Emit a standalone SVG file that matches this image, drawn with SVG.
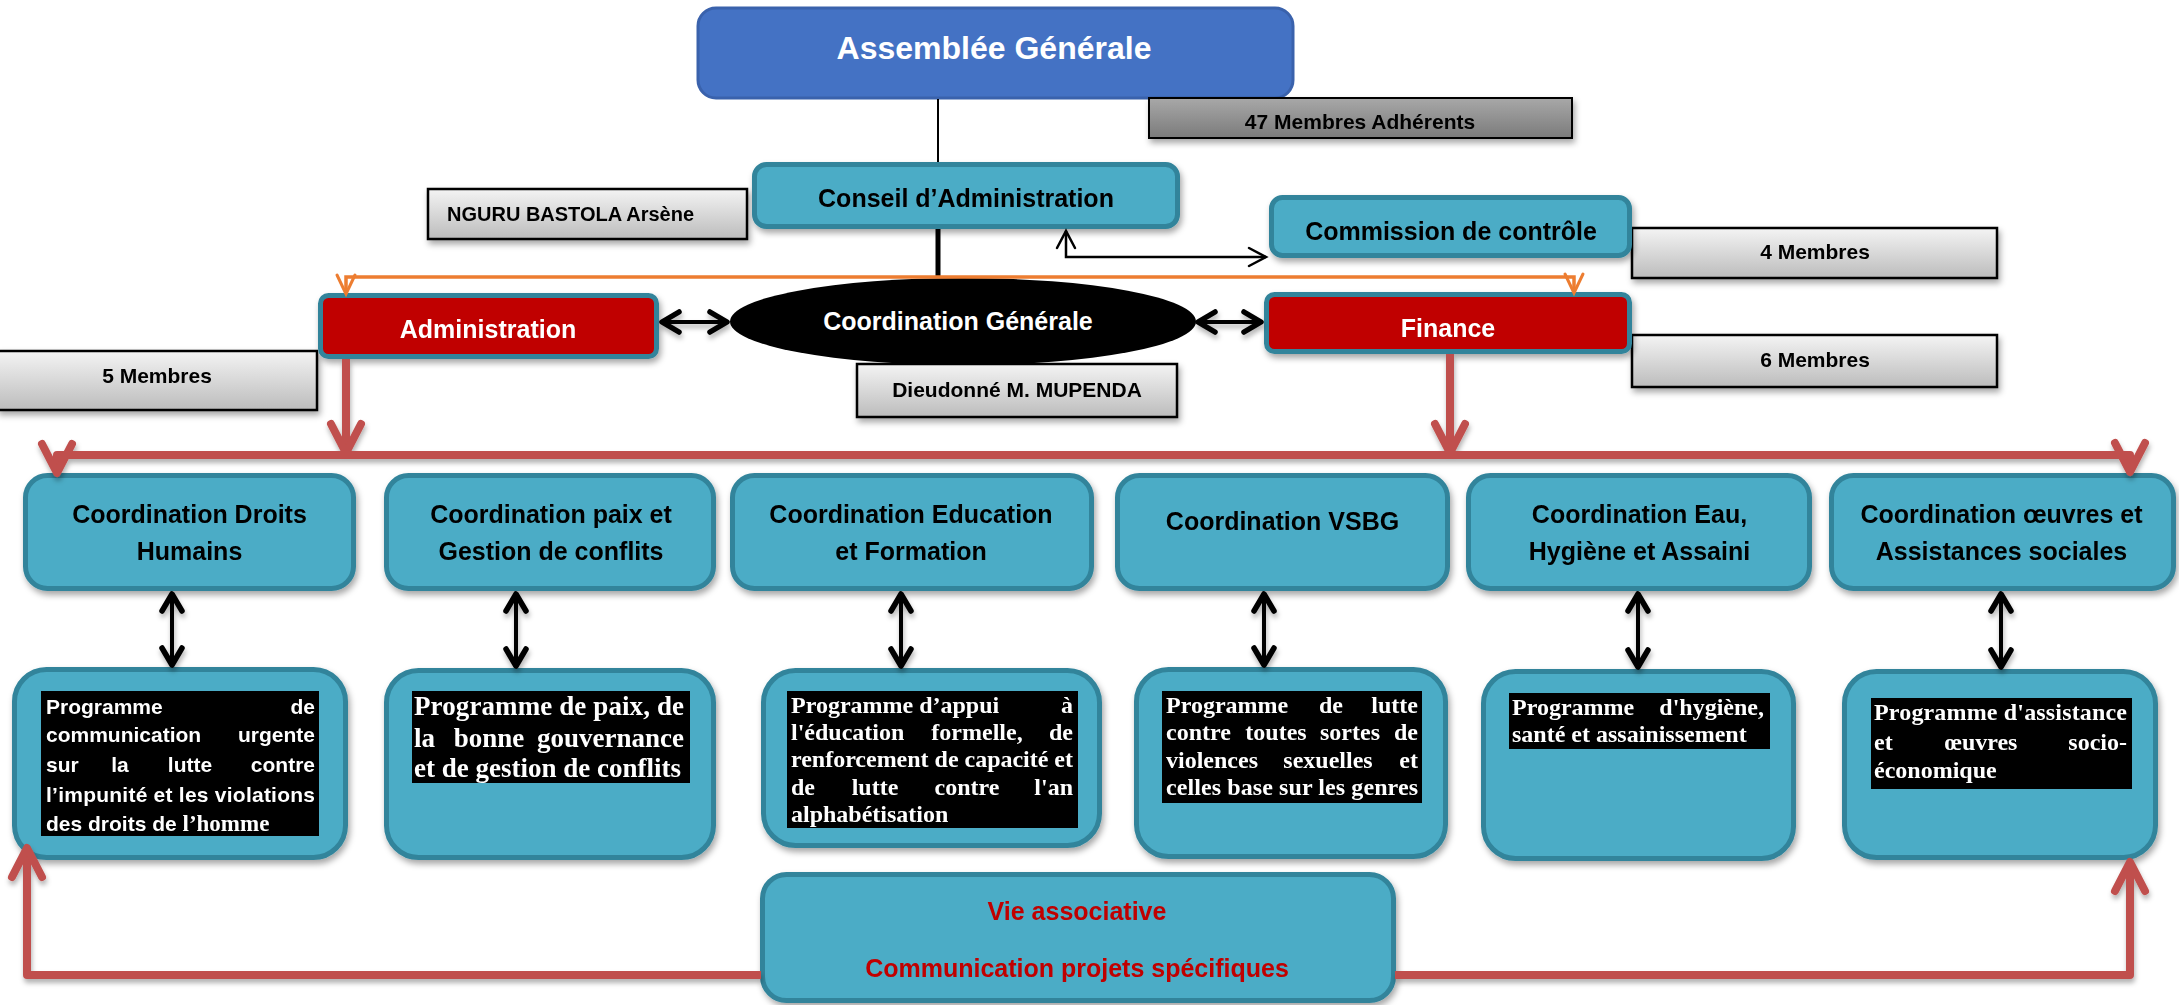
<svg xmlns="http://www.w3.org/2000/svg" width="2179" height="1005" viewBox="0 0 2179 1005">
<defs>
<style>
.teal{fill:#4BACC6;stroke:#31849B;stroke-width:5}
.redb{fill:#C00000;stroke:#31849B;stroke-width:5}
.gray{fill:url(#gLight);stroke:#000;stroke-width:2.5}
.grayd{fill:url(#gDark);stroke:#000;stroke-width:2}
.blk{fill:#000}
.t{font-family:"Liberation Sans",Arial,sans-serif;font-weight:bold}
.sz25{font-size:25px}
.sz21{font-size:21px}
.c{text-anchor:middle}
.e{text-anchor:end}
.w{fill:#fff}
.k{fill:#000}
.s{font-family:"Liberation Serif","Times New Roman",serif;font-weight:bold;fill:#fff;font-size:24px}
.s27{font-size:27px}
.ps{font-family:"Liberation Sans",Arial,sans-serif;font-weight:bold;fill:#fff;font-size:21px}
.lnB{fill:none;stroke:#000;stroke-width:4}
.lnT{fill:none;stroke:#000;stroke-width:2.5}
.lnO{fill:none;stroke:#ED7D31;stroke-width:3.5}
.lnR{fill:none;stroke:#C0504D;stroke-width:8;stroke-linejoin:round}
</style>
<linearGradient id="gLight" x1="0" y1="0" x2="0" y2="1">
<stop offset="0" stop-color="#f4f4f4"/><stop offset="1" stop-color="#bcbcbc"/>
</linearGradient>
<linearGradient id="gDark" x1="0" y1="0" x2="0" y2="1">
<stop offset="0" stop-color="#a8a8a8"/><stop offset="1" stop-color="#7b7b7b"/>
</linearGradient>
<filter id="sh" x="-10%" y="-10%" width="125%" height="140%">
<feDropShadow dx="2" dy="4" stdDeviation="3" flood-color="#000" flood-opacity="0.35"/>
</filter>
<filter id="shl" x="-5%" y="-50%" width="110%" height="300%">
<feDropShadow dx="1" dy="4" stdDeviation="2.5" flood-color="#000" flood-opacity="0.3"/>
</filter>
<marker id="aBlk" viewBox="0 0 24 26" refX="20" refY="13" markerWidth="24" markerHeight="26" markerUnits="userSpaceOnUse" orient="auto-start-reverse" overflow="visible">
<path d="M3,3 L20,13 L3,23" fill="none" stroke="#000" stroke-width="5.5" stroke-linecap="round" stroke-linejoin="round"/>
</marker>
<marker id="aThin" viewBox="0 0 20 20" refX="18" refY="10" markerWidth="20" markerHeight="20" markerUnits="userSpaceOnUse" orient="auto-start-reverse" overflow="visible">
<path d="M1,1 L18,10 L1,19" fill="none" stroke="#000" stroke-width="2.5" stroke-linecap="round"/>
</marker>
<marker id="aOr" viewBox="0 0 22 20" refX="20" refY="10" markerWidth="22" markerHeight="20" markerUnits="userSpaceOnUse" orient="auto" overflow="visible">
<path d="M1,1 L20,10 L1,19" fill="none" stroke="#ED7D31" stroke-width="3" stroke-linecap="round"/>
</marker>
<marker id="aRed" viewBox="0 0 34 34" refX="30" refY="17" markerWidth="34" markerHeight="34" markerUnits="userSpaceOnUse" orient="auto" overflow="visible">
<path d="M2,2 L31,17 L2,32" fill="none" stroke="#C0504D" stroke-width="8" stroke-linecap="round" stroke-linejoin="round"/>
</marker>
</defs>

<rect width="2179" height="1005" fill="#fff"/>

<g id="assemblee">
<rect x="698" y="8" width="595" height="90" rx="18" fill="#4472C4" stroke="#3A62AC" stroke-width="3"/>
<text class="t w c" x="994" y="59" font-size="32">Assemblée Générale</text>
</g>

<g id="membres47" filter="url(#sh)">
<rect class="grayd" x="1149" y="98" width="423" height="40"/>
<text class="t k c sz21" x="1360" y="129">47 Membres Adhérents</text>
</g>

<g id="nguru" filter="url(#sh)">
<rect class="gray" x="428" y="189" width="319" height="50"/>
<text class="t k" x="447" y="221" font-size="20">NGURU BASTOLA Arsène</text>
</g>

<g id="conseil" filter="url(#sh)">
<rect class="teal" x="754.5" y="164.5" width="423" height="62" rx="12"/>
<text class="t k c sz25" x="966" y="207">Conseil d’Administration</text>
</g>

<g id="membres4" filter="url(#sh)">
<rect class="gray" x="1632" y="228" width="365" height="50"/>
<text class="t k c sz21" x="1815" y="259">4 Membres</text>
</g>

<g id="commission" filter="url(#sh)">
<rect class="teal" x="1271.5" y="197.5" width="358" height="58" rx="11"/>
<text class="t k c sz25" x="1451" y="240">Commission de contrôle</text>
</g>

<g id="membres5" filter="url(#sh)">
<rect class="gray" x="-2" y="351" width="319" height="59"/>
<text class="t k c sz21" x="157" y="383">5 Membres</text>
</g>

<g id="administration" filter="url(#sh)">
<rect class="redb" x="320.5" y="295.5" width="336" height="61" rx="8"/>
<text class="t w c sz25" x="488" y="338">Administration</text>
</g>

<g id="dieudonne" filter="url(#sh)">
<rect class="gray" x="857" y="364" width="320" height="53"/>
<text class="t k c sz21" x="1017" y="397">Dieudonné M. MUPENDA</text>
</g>

<g id="coordination-generale">
<ellipse cx="963" cy="321.5" rx="233" ry="43.5" fill="#000"/>
<text class="t w c sz25" x="958" y="330">Coordination Générale</text>
</g>

<g id="membres6" filter="url(#sh)">
<rect class="gray" x="1632" y="335" width="365" height="52"/>
<text class="t k c sz21" x="1815" y="367">6 Membres</text>
</g>

<g id="finance" filter="url(#sh)">
<rect class="redb" x="1266.5" y="294.5" width="363" height="57" rx="8"/>
<text class="t w c sz25" x="1448" y="337">Finance</text>
</g>

<g id="coord-droits" filter="url(#sh)">
<rect class="teal" x="25.5" y="475.5" width="328" height="113" rx="22"/>
<text class="t k c sz25" x="189.5" y="523">Coordination Droits</text>
<text class="t k c sz25" x="189.5" y="560">Humains</text>
</g>
<g id="coord-paix" filter="url(#sh)">
<rect class="teal" x="386.5" y="475.5" width="327" height="113" rx="22"/>
<text class="t k c sz25" x="551" y="523">Coordination paix et</text>
<text class="t k c sz25" x="551" y="560">Gestion de conflits</text>
</g>
<g id="coord-education" filter="url(#sh)">
<rect class="teal" x="732.5" y="475.5" width="359" height="113" rx="22"/>
<text class="t k c sz25" x="911" y="523">Coordination Education</text>
<text class="t k c sz25" x="911" y="560">et Formation</text>
</g>
<g id="coord-vsbg" filter="url(#sh)">
<rect class="teal" x="1117.5" y="475.5" width="330" height="113" rx="22"/>
<text class="t k c sz25" x="1282.5" y="530">Coordination VSBG</text>
</g>
<g id="coord-eau" filter="url(#sh)">
<rect class="teal" x="1468.5" y="475.5" width="341" height="113" rx="22"/>
<text class="t k c sz25" x="1639.5" y="523">Coordination Eau,</text>
<text class="t k c sz25" x="1639.5" y="560">Hygiène et Assaini</text>
</g>
<g id="coord-oeuvres" filter="url(#sh)">
<rect class="teal" x="1831.5" y="475.5" width="342" height="113" rx="22"/>
<text class="t k c sz25" x="2001.5" y="523">Coordination œuvres et</text>
<text class="t k c sz25" x="2001.5" y="560">Assistances sociales</text>
</g>

<g id="prog-droits" filter="url(#sh)">
<rect class="teal" x="14.5" y="669.5" width="331" height="188" rx="32"/>
<rect class="blk" x="41" y="691" width="278" height="145"/>
<text class="ps" x="46" y="714" font-size="18">Programme</text>
<text class="ps e" x="315" y="714" font-size="18">de</text>
<text class="ps" x="46" y="742">communication</text>
<text class="ps e" x="315" y="742">urgente</text>
<text class="ps" x="46" y="772">sur</text>
<text class="ps c" x="120" y="772">la</text>
<text class="ps c" x="190" y="772">lutte</text>
<text class="ps e" x="315" y="772">contre</text>
<text class="ps" x="46" y="802" textLength="269" lengthAdjust="spacing">l’impunité et les violations</text>
<text class="ps" x="46" y="831">des droits de <tspan font-family="'Liberation Serif',serif" font-size="23">l’homme</tspan></text>
</g>

<g id="prog-paix" filter="url(#sh)">
<rect class="teal" x="386.5" y="670.5" width="327" height="187" rx="32"/>
<rect class="blk" x="412" y="691" width="278" height="92"/>
<text class="s s27" x="414" y="715" textLength="270" lengthAdjust="spacing">Programme de paix, de</text>
<text class="s s27" x="414" y="747">la</text>
<text class="s s27 c" x="489" y="747">bonne</text>
<text class="s s27 e" x="684" y="747">gouvernance</text>
<text class="s s27" x="414" y="777">et de gestion de conflits</text>
</g>

<g id="prog-education" filter="url(#sh)">
<rect class="teal" x="763.5" y="670.5" width="336" height="175" rx="32"/>
<rect class="blk" x="787" y="691" width="291" height="137"/>
<text class="s" x="791" y="713">Programme d’appui</text>
<text class="s e" x="1073" y="713">à</text>
<text class="s" x="791" y="740">l'éducation</text>
<text class="s c" x="977" y="740">formelle,</text>
<text class="s e" x="1073" y="740">de</text>
<text class="s" x="791" y="767" textLength="282" lengthAdjust="spacing">renforcement de capacité et</text>
<text class="s" x="791" y="795">de</text>
<text class="s c" x="875" y="795">lutte</text>
<text class="s c" x="967" y="795">contre</text>
<text class="s e" x="1073" y="795">l'an</text>
<text class="s" x="791" y="822">alphabétisation</text>
</g>

<g id="prog-vsbg" filter="url(#sh)">
<rect class="teal" x="1136.5" y="669.5" width="309" height="187" rx="32"/>
<rect class="blk" x="1162" y="691" width="260" height="112"/>
<text class="s" x="1166" y="713">Programme</text>
<text class="s c" x="1331" y="713">de</text>
<text class="s e" x="1418" y="713">lutte</text>
<text class="s" x="1166" y="740">contre</text>
<text class="s c" x="1276" y="740">toutes</text>
<text class="s c" x="1350" y="740">sortes</text>
<text class="s e" x="1418" y="740">de</text>
<text class="s" x="1166" y="768">violences</text>
<text class="s c" x="1328" y="768">sexuelles</text>
<text class="s e" x="1418" y="768">et</text>
<text class="s" x="1166" y="795" textLength="252" lengthAdjust="spacing">celles base sur les genres</text>
</g>

<g id="prog-hygiene" filter="url(#sh)">
<rect class="teal" x="1483.5" y="671.5" width="310" height="187" rx="32"/>
<rect class="blk" x="1509" y="693" width="261" height="56"/>
<text class="s" x="1512" y="715">Programme</text>
<text class="s e" x="1764" y="715">d'hygiène,</text>
<text class="s" x="1512" y="742">santé et assainissement</text>
</g>

<g id="prog-assistance" filter="url(#sh)">
<rect class="teal" x="1844.5" y="671.5" width="311" height="186" rx="32"/>
<rect class="blk" x="1871" y="698" width="261" height="91"/>
<text class="s" x="1874" y="720" textLength="253" lengthAdjust="spacing">Programme d'assistance</text>
<text class="s" x="1874" y="750">et</text>
<text class="s c" x="1981" y="750">œuvres</text>
<text class="s e" x="2127" y="750">socio-</text>
<text class="s" x="1874" y="778">économique</text>
</g>

<g id="vie-associative" filter="url(#sh)">
<rect class="teal" x="762.5" y="874.5" width="631" height="126" rx="24"/>
<text class="t c sz25" x="1077" y="920" fill="#C00000">Vie associative</text>
<text class="t c sz25" x="1077" y="977" fill="#C00000">Communication projets spécifiques</text>
</g>

<g id="connectors">
<path d="M938,99 V162" fill="none" stroke="#000" stroke-width="2"/>
<path d="M938,229 V278" fill="none" stroke="#000" stroke-width="5"/>
<path class="lnT" d="M1066,231 V257 H1266" marker-start="url(#aThin)" marker-end="url(#aThin)"/>
<path class="lnO" d="M963,277 H346 V294" marker-end="url(#aOr)"/>
<path class="lnO" d="M963,277 H1574 V293" marker-end="url(#aOr)"/>
<g filter="url(#shl)">
<path class="lnB" d="M662,322 H727" marker-start="url(#aBlk)" marker-end="url(#aBlk)"/>
<path class="lnB" d="M1198,322 H1261" marker-start="url(#aBlk)" marker-end="url(#aBlk)"/>
<path class="lnR" d="M346,359 V452" marker-end="url(#aRed)"/>
<path class="lnR" d="M1450,354 V452" marker-end="url(#aRed)"/>
<path class="lnR" d="M1000,455 H57 V472" marker-end="url(#aRed)"/>
<path class="lnR" d="M1000,455 H2130 V471" marker-end="url(#aRed)"/>
<path class="lnR" d="M761,975 H27 V849" marker-end="url(#aRed)"/>
<path class="lnR" d="M1395,975 H2130 V863" marker-end="url(#aRed)"/>
<path class="lnB" d="M172,594 V665" marker-start="url(#aBlk)" marker-end="url(#aBlk)"/>
<path class="lnB" d="M516,594 V666" marker-start="url(#aBlk)" marker-end="url(#aBlk)"/>
<path class="lnB" d="M901,594 V666" marker-start="url(#aBlk)" marker-end="url(#aBlk)"/>
<path class="lnB" d="M1264,594 V665" marker-start="url(#aBlk)" marker-end="url(#aBlk)"/>
<path class="lnB" d="M1638,594 V667" marker-start="url(#aBlk)" marker-end="url(#aBlk)"/>
<path class="lnB" d="M2001,594 V667" marker-start="url(#aBlk)" marker-end="url(#aBlk)"/>
</g>
</g>
</svg>
